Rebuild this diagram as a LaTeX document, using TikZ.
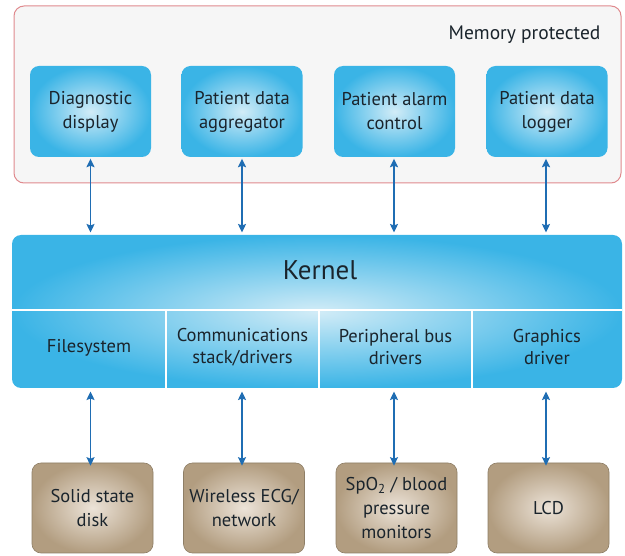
\documentclass[tikz,border=0pt]{standalone}
\usepackage{fontspec}
\setmainfont{PT Sans}
\usetikzlibrary{arrows.meta}
\definecolor{edgeblue}{HTML}{3AB4E6}
\definecolor{coreblue}{HTML}{D2ECF7}
\definecolor{edgetan}{HTML}{B29D80}
\definecolor{coretan}{HTML}{ECE3D8}
\definecolor{arrowblue}{HTML}{1F6DB3}
\definecolor{framered}{HTML}{E08A8E}
\definecolor{framefill}{HTML}{F6F6F6}
\definecolor{textdark}{HTML}{1A242C}
\begin{document}
\begin{tikzpicture}[x=1pt,y=-1pt,
  appbox/.style={rounded corners=9pt, inner color=coreblue, outer color=edgeblue,
    minimum width=121pt, minimum height=91pt, align=center, inner sep=0pt,
    font=\fontsize{18.5}{24}\selectfont, text=textdark},
  devbox/.style={rounded corners=9pt, inner color=coretan, outer color=edgetan,
    draw=edgetan!80!black, line width=0.6pt,
    minimum width=121pt, minimum height=90pt, align=center, inner sep=0pt,
    font=\fontsize{18.5}{24}\selectfont, text=textdark},
  layer/.style={align=center, inner sep=0pt, font=\fontsize{18.5}{22}\selectfont, text=textdark},
  link/.style={draw=arrowblue, line width=1.7pt,
    {Stealth[length=8.5pt,width=8pt,inset=1.5pt]}-{Stealth[length=8.5pt,width=8pt,inset=1.5pt]}}
]
\useasboundingbox (0,0) rectangle (625,556);

% memory-protected region
\node[draw=framered, fill=framefill, line width=1pt, rounded corners=10pt,
  minimum width=607pt, minimum height=177pt, inner sep=0pt] (mem) at (317.5,94.5) {};
\node[anchor=east, font=\fontsize{19.5}{22}\selectfont, text=textdark] (memlabel) at (604,35) {Memory protected};

% applications
\node[appbox] (diag)   at (90.5,111.5) {Diagnostic\\display};
\node[appbox] (agg)    at (242,111.5)  {Patient data\\aggregator};
\node[appbox] (alarm)  at (394.5,111.5){Patient alarm\\control};
\node[appbox] (logger) at (547,111.5)  {Patient data\\logger};

% kernel
\node[rounded corners=9pt, inner color=coreblue, outer color=edgeblue,
  minimum width=610pt, minimum height=153pt, inner sep=0pt] (kernel) at (317,311.5) {};
\node[text=textdark, font=\fontsize{27}{30}\selectfont] (kname) at (320,270) {Kernel};
\draw[white, line width=2pt] (kernel.west |- 0,310) -- (kernel.east |- 0,310);
\foreach \xd in {166,319,472}
  \draw[white, line width=2pt] (\xd,310) -- (\xd,388);
\node[layer] (fs)     at (89,348)    {Filesystem};
\node[layer] (comm)   at (242.5,347) {Communications\\stack/drivers};
\node[layer] (periph) at (395.5,347) {Peripheral bus\\drivers};
\node[layer] (gfx)    at (547,347)   {Graphics\\driver};

% devices
\node[devbox] (ssd)  at (92.5,508)  {Solid state\\disk};
\node[devbox] (ecg)  at (244,508)   {Wireless ECG/\\network};
\node[devbox] (spo)  at (396.5,508) {SpO\textsubscript{2} / blood\\pressure\\monitors};
\node[devbox] (lcd)  at (548.5,508) {LCD};

% links between layers
\foreach \app/\xa in {diag/90.5,agg/242,alarm/394,logger/546}
  \draw[link] (\app.south -| \xa,0) ++(0,1.5) -- (\xa,232.5);
\foreach \dev/\xa in {ssd/90.5,ecg/242,spo/394,lcd/546}
  \draw[link] (\xa,391.5) -- ([yshift=-3pt]\dev.north -| \xa,0);
\end{tikzpicture}
\end{document}
